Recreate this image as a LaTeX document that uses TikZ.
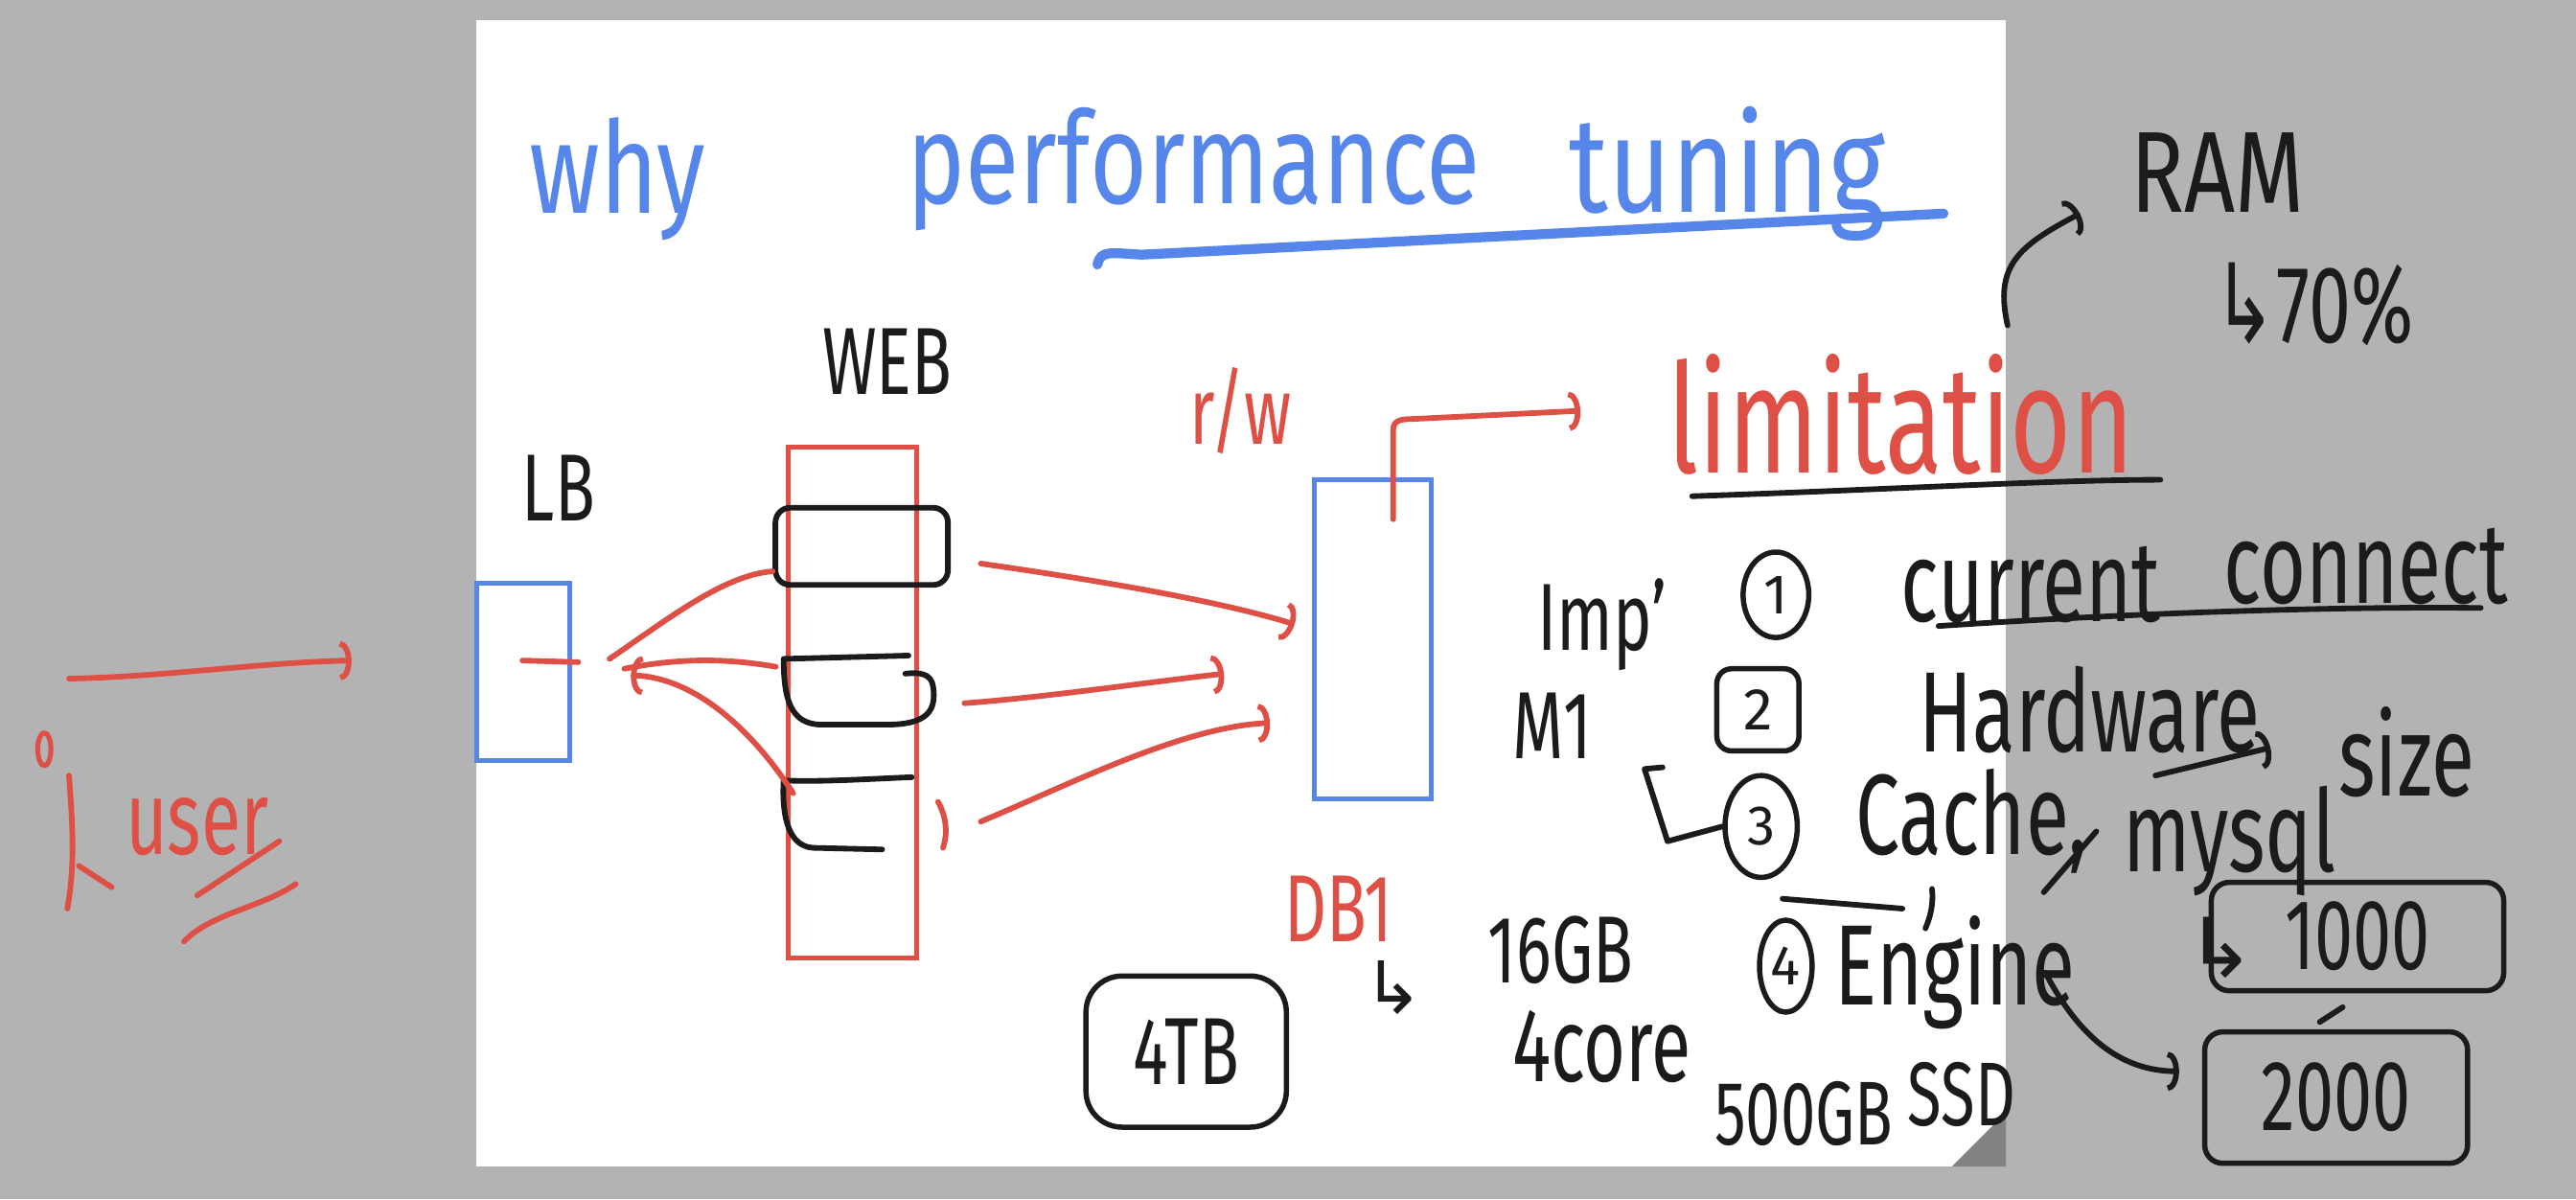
\documentclass[tikz,border=0pt]{standalone}
\usepackage{fontspec}
\usepackage{graphicx}
\setmainfont{Fira Sans}
\newfontfamily\arrowfont{DejaVu Sans}
\usetikzlibrary{arrows.meta,shapes.geometric}

\definecolor{penBlue}{HTML}{5686EA}
\definecolor{penRed}{HTML}{DE5045}
\definecolor{penBlack}{HTML}{1B1B1B}
\definecolor{boardGray}{HTML}{B3B3B3}
\definecolor{foldGray}{HTML}{838383}

\newcommand{\inkTall}[2][1.45]{\scalebox{1}[#1]{#2}}

\begin{document}
\begin{tikzpicture}
[x=1pt,y=-1pt,
  penDecorate/.style={line width=3.4pt,line cap=round,line join=round},%
  boxDecorate/.style={shape=rectangle,draw,line width=3pt,inner sep=0pt},%
  ringDecorate/.style={shape=ellipse,draw=penBlack,line width=3.2pt,inner sep=0pt,text=penBlack,font=\fontsize{34}{34}\selectfont},%
  barbDecorate/.style={-{Arc Barb[length=7pt,width=24pt]}},%
  inkText/.style={text=penBlack,inner sep=0pt,font=\fontsize{40}{40}\selectfont},%
  redText/.style={text=penRed,inner sep=0pt,font=\fontsize{40}{40}\selectfont},%
  blueText/.style={text=penBlue,inner sep=0pt,anchor=base west,font=\fontsize{60}{60}\selectfont}]
%% board and page
\useasboundingbox (0,0) rectangle (1568,730);
\fill[boardGray] (0,0) rectangle (1568,730);
\fill[white] (290,12) rectangle (1221,710);
\fill[foldGray] (1188,710) -- (1221,677) -- (1221,710) -- cycle;
%% title
\node (titleWhy) at (322,130) [blueText] {\inkTall[1.3]{why}};
\node (titlePerf) at (552,124) [blueText] {\inkTall[1.3]{performance}};
\node (titleTune) at (955,129) [blueText,font=\fontsize{66}{66}\selectfont] {\inkTall[1.25]{tuning}};
\draw[penBlue,line width=6pt,line cap=round] (668,161) .. controls (670,152) and (676,154) .. (695,155) -- (1183,130);
%% servers
\node (lb) at (318.5,409) [boxDecorate,draw=penBlue,minimum width=57pt,minimum height=108pt] {};
\node (web) at (519,427.5) [boxDecorate,draw=penRed,minimum width=78pt,minimum height=311pt] {};
\node (db) at (835.5,389) [boxDecorate,draw=penBlue,minimum width=71pt,minimum height=194pt] {};
\node (lbLabel) at (340,297) [inkText] {\inkTall{LB}};
\node (webLabel) at (540,220) [inkText] {\inkTall{WEB}};
\node (rwLabel) at (755,250) [redText] {\inkTall{r/w}};
\node (dbLabel) at (815,553) [redText] {\inkTall{DB1}};
%% web workers
\node (webOne) at (524.5,332.5) [boxDecorate,draw=penBlack,line width=3.4pt,rounded corners=9pt,minimum width=105pt,minimum height=47pt] {};
\node (webTwo) at (521,419) [inner sep=0pt,minimum width=97pt,minimum height=42pt] {};
\node (webThree) at (515,495) [inner sep=0pt,minimum width=84pt,minimum height=44pt] {};
\draw[penDecorate,penBlack] (553,399) -- (477,401) .. controls (477,425) and (481,441) .. (500,441) -- (540,441) .. controls (565,441) and (570,432) .. (568,418) .. controls (567,410) and (560,409) .. (551,410);
\draw[penDecorate,penBlack] (555,473) .. controls (530,474) and (500,476) .. (477,475) .. controls (476,492) and (478,515) .. (495,516) -- (537,517);
%% user
\node (user) at (120,503) [redText,font=\fontsize{44}{44}\selectfont] {\inkTall{user}};
\draw[penDecorate,penRed,line width=3pt] (27,456) ellipse (4pt and 10pt);
\draw[penDecorate,penRed] (42,472) .. controls (44,500) and (46,525) .. (41,553);
\draw[penDecorate,penRed] (48,527) -- (68,540);
\draw[penDecorate,penRed] (120,545) -- (170,512);
\draw[penDecorate,penRed] (112,573) .. controls (128,556) and (160,552) .. (180,538);
\coordinate (userTail) at (42,413);
\coordinate (userHead) at (214,402);
\draw[penDecorate,penRed,barbDecorate] (userTail) .. controls (100,412) and (160,403) .. (userHead);
%% requests
\coordinate (lbTap) at (318,402);
\coordinate (lbOutA) at (371,401);
\coordinate (lbOutB) at (380,407);
\coordinate (lbIn) at (384,411);
\draw[penDecorate,penRed] (lbTap) -- (352,403);
\draw[penDecorate,penRed] (lbOutA) .. controls (405,378) and (440,350) .. ([yshift=10pt]webOne.south west);
\draw[penDecorate,penRed] (lbOutB) .. controls (420,399) and (450,402) .. ([yshift=-8pt]webTwo.north west);
\draw[penDecorate,penRed,barbDecorate] ([xshift=10pt,yshift=-10pt]webThree.north west) .. controls (455,440) and (420,412) .. (lbIn);
\coordinate (webOutA) at (597,343);
\coordinate (webOutB) at (587,428);
\coordinate (webOutC) at (597,500);
\coordinate (dbInA) at (788,380);
\coordinate (dbInB) at (745,410);
\coordinate (dbInC) at (773,440);
\draw[penDecorate,penRed,barbDecorate] (webOutA) .. controls (660,352) and (740,365) .. (dbInA);
\draw[penDecorate,penRed,barbDecorate] (webOutB) .. controls (640,424) and (700,415) .. (dbInB);
\draw[penDecorate,penRed,barbDecorate] (webOutC) .. controls (650,478) and (720,442) .. (dbInC);
\draw[penDecorate,penRed] (571,488) .. controls (576,497) and (577,507) .. (574,516);
%% limitation
\node (limitation) at (1157,252) [redText,font=\fontsize{64}{64}\selectfont] {\inkTall{limitation}};
\coordinate (dbTap) at (848,316);
\coordinate (limitIn) at (962,250);
\draw[penDecorate,penRed,barbDecorate] (dbTap) -- (848,262) .. controls (848,256) and (852,255) .. (860,255) -- (limitIn);
\draw[penDecorate,penBlack] (1030,302) .. controls (1150,298) and (1250,292) .. (1315,292);
%% ram
\node (ram) at (1350,105) [inkText,font=\fontsize{54}{54}\selectfont] {\inkTall[1.3]{RAM}};
\node (ramShare) at (1408,185) [inkText,font=\fontsize{46}{46}\selectfont] {\inkTall{{\arrowfont ↳}70\%}};
\coordinate (ramTail) at (1222,198);
\coordinate (ramHead) at (1266,130);
\draw[penDecorate,penBlack,barbDecorate] (ramTail) .. controls (1214,162) and (1228,150) .. (ramHead);
%% list of limits
\node (imp) at (975,380) [inkText] {\inkTall{Imp'}};
\node (mOne) at (945,442) [inkText] {\inkTall{M1}};
\node (itemOne) at (1081,362) [ringDecorate,minimum width=40pt,minimum height=52pt] {1};
\node (itemTwo) at (1070,432) [boxDecorate,draw=penBlack,line width=3.2pt,rounded corners=9pt,minimum width=50pt,minimum height=50pt,text=penBlack,font=\fontsize{36}{36}\selectfont] {2};
\node (itemThree) at (1072,503) [ringDecorate,minimum width=44pt,minimum height=62pt] {3};
\node (itemFour) at (1087,588) [ringDecorate,minimum width=32pt,minimum height=56pt] {4};
\foreach \labname/\x/\y/\labtext in {
  current/1236/356/current, connect/1440/345/connect, hardware/1272/432/Hardware,
  cache/1200/500/{Cache,}, mysql/1357/512/mysql, size/1465/458/size,
  engine/1190/592/Engine}
{
  \node (\labname) at (\x,\y) [inkText,font=\fontsize{48}{48}\selectfont] {\inkTall{\labtext}};
}
\draw[penDecorate,penBlack] (1180,381) .. controls (1300,373) and (1420,369) .. (1510,370);
\coordinate (upTip) at (1001,468);
\draw[penDecorate,penBlack] (itemThree.west) -- (1015,512) -- (upTip) -- (1012,467);
\coordinate (sizeTail) at (1312,472);
\coordinate (sizeHead) at (1382,455);
\draw[penDecorate,penBlack,barbDecorate] (sizeTail) -- (sizeHead);
\draw[penDecorate,penBlack] (1276,506) -- (1244,543);
\draw[penDecorate,penBlack] (1085,547) -- (1158,553);
\draw[penDecorate,penBlack] (1176,541) .. controls (1177,550) and (1175,558) .. (1172,565);
%% engine sizes
\node (smallPool) at (1435,570) [boxDecorate,draw=penBlack,line width=3.2pt,rounded corners=11pt,minimum width=178pt,minimum height=66pt,text=penBlack,font=\fontsize{42}{42}\selectfont] {\inkTall{1000}};
\node (bigPool) at (1422,668) [boxDecorate,draw=penBlack,line width=3.2pt,rounded corners=11pt,minimum width=160pt,minimum height=80pt,text=penBlack,font=\fontsize{42}{42}\selectfont] {\inkTall{2000}};
\node (poolArrow) at (1352,577) [inkText,font=\fontsize{50}{50}\arrowfont] {↳};
\draw[penDecorate,penBlack,barbDecorate] (1245,592) .. controls (1265,630) and (1290,652) .. ([xshift=-14pt,yshift=16pt]bigPool.west);
\draw[penDecorate,penBlack] (1412,622) -- (1426,613);
%% db specs
\node (diskBox) at (722,640) [boxDecorate,draw=penBlack,line width=3.2pt,rounded corners=22pt,minimum width=122pt,minimum height=92pt,text=penBlack,font=\fontsize{40}{40}\selectfont] {\inkTall{4TB}};
\node (specArrow) at (848,601) [inkText,font=\fontsize{44}{44}\arrowfont] {↳};
\node (memory) at (950,578) [inkText] {\inkTall{16GB}};
\node (cores) at (975,637) [inkText,font=\fontsize{44}{44}\selectfont] {\inkTall{4core}};
\node (diskSize) at (1098,678) [inkText,font=\fontsize{38}{38}\selectfont] {\inkTall{500GB}};
\node (diskType) at (1194,666) [inkText,font=\fontsize{38}{38}\selectfont] {\inkTall{SSD}};
\end{tikzpicture}
\end{document}
